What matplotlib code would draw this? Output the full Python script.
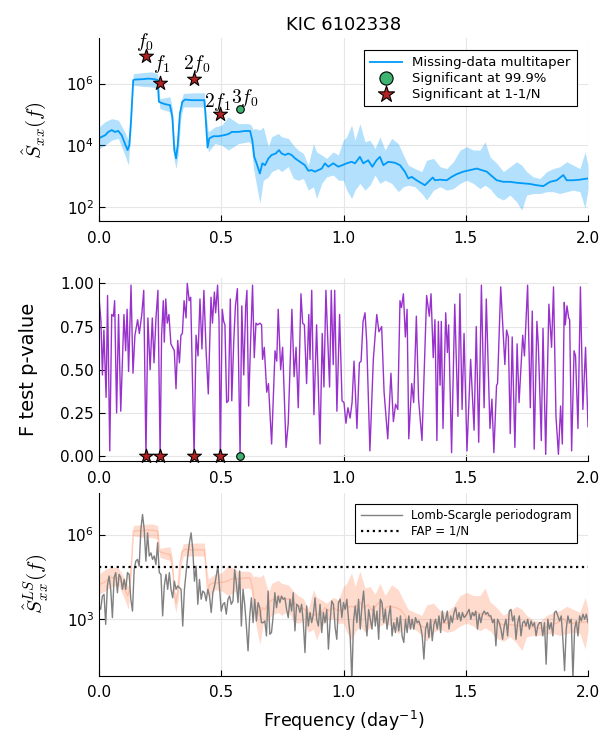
import matplotlib
matplotlib.use("Agg")
import matplotlib.pyplot as plt
import numpy as np

# multitaper estimate (log10 of S_xx)
mt_f = [0.000, 0.011, 0.025, 0.038, 0.052, 0.065, 0.079, 0.093, 0.106, 0.117, 0.124, 0.131,
        0.140, 0.147, 0.175, 0.202, 0.229, 0.240, 0.245, 0.256, 0.270, 0.290, 0.300, 0.308,
        0.315, 0.322, 0.331, 0.341, 0.352, 0.379, 0.406, 0.431, 0.436, 0.444, 0.451, 0.468,
        0.488, 0.509, 0.529, 0.543, 0.570, 0.597, 0.618, 0.627, 0.635, 0.645, 0.658, 0.668,
        0.679, 0.693, 0.706, 0.723, 0.736, 0.747, 0.761, 0.774, 0.788, 0.802, 0.822, 0.842,
        0.856, 0.870, 0.883, 0.897, 0.911, 0.924, 0.938, 0.958, 0.979, 0.995, 1.013, 1.033,
        1.047, 1.067, 1.081, 1.101, 1.118, 1.135, 1.149, 1.163, 1.183, 1.210, 1.231, 1.251,
        1.265, 1.279, 1.299, 1.320, 1.333, 1.347, 1.365, 1.374, 1.395, 1.422, 1.442, 1.463,
        1.490, 1.517, 1.545, 1.565, 1.586, 1.606, 1.627, 1.654, 1.681, 1.708, 1.736, 1.763,
        1.790, 1.817, 1.845, 1.872, 1.899, 1.913, 1.940, 1.967, 2.000]
mt_log = [4.22, 4.27, 4.32, 4.43, 4.49, 4.43, 4.46, 4.32, 4.05, 3.84, 4.00, 4.81,
          6.11, 6.13, 6.14, 6.16, 6.14, 6.11, 5.41, 5.37, 5.33, 5.30, 4.92, 3.84,
          3.57, 4.00, 5.03, 5.41, 5.48, 5.46, 5.46, 5.46, 4.92, 3.92, 4.22, 4.29,
          4.29, 4.32, 4.36, 4.43, 4.43, 4.46, 4.46, 4.16, 3.62, 3.40, 3.08, 3.41,
          3.35, 3.57, 3.68, 3.73, 3.84, 3.73, 3.68, 3.73, 3.68, 3.57, 3.46, 3.35,
          3.17, 3.19, 3.14, 3.19, 3.24, 3.41, 3.30, 3.41, 3.30, 3.35, 3.41, 3.46,
          3.41, 3.62, 3.41, 3.51, 3.30, 3.51, 3.62, 3.35, 3.46, 3.43, 3.35, 3.14,
          2.92, 2.97, 2.86, 2.76, 2.70, 2.81, 2.95, 2.86, 2.88, 2.86, 2.97, 3.06,
          3.14, 3.19, 3.24, 3.19, 3.14, 3.00, 2.86, 2.81, 2.81, 2.78, 2.76, 2.74,
          2.70, 2.67, 2.81, 2.86, 3.03, 2.86, 2.86, 2.88, 2.92]

# confidence band of the multitaper estimate (log10)
bd_f = [0.000, 0.025, 0.052, 0.079, 0.106, 0.120, 0.131, 0.140, 0.175, 0.215, 0.240, 0.249,
        0.290, 0.300, 0.308, 0.315, 0.324, 0.335, 0.345, 0.393, 0.431, 0.438, 0.447, 0.474,
        0.502, 0.529, 0.570, 0.611, 0.622, 0.631, 0.638, 0.658, 0.672, 0.693, 0.706, 0.733,
        0.747, 0.774, 0.795, 0.815, 0.836, 0.856, 0.877, 0.890, 0.911, 0.931, 0.958, 0.979,
        0.999, 1.013, 1.033, 1.047, 1.067, 1.088, 1.108, 1.129, 1.149, 1.170, 1.197, 1.224,
        1.245, 1.265, 1.292, 1.320, 1.340, 1.368, 1.395, 1.422, 1.449, 1.477, 1.504, 1.531,
        1.558, 1.579, 1.599, 1.627, 1.654, 1.681, 1.708, 1.729, 1.749, 1.776, 1.804, 1.831,
        1.858, 1.885, 1.913, 1.940, 1.967, 1.988, 2.000]
bd_hi = [4.59, 4.76, 4.86, 4.81, 4.43, 4.16, 5.00, 6.32, 6.35, 6.38, 6.32, 5.51,
         5.57, 5.20, 4.10, 3.84, 4.40, 5.40, 5.68, 5.70, 5.70, 5.00, 4.43, 4.59,
         4.65, 4.92, 4.70, 4.70, 4.65, 4.50, 4.54, 4.49, 4.59, 3.95, 4.27, 4.38,
         4.27, 4.22, 4.00, 3.84, 3.73, 3.35, 4.05, 3.78, 3.68, 3.57, 3.78, 3.68,
         4.16, 4.27, 4.65, 4.16, 4.70, 4.11, 4.16, 3.89, 4.27, 3.84, 4.22, 4.05,
         3.68, 3.35, 3.24, 3.14, 3.51, 3.57, 3.30, 3.24, 3.46, 3.84, 3.95, 3.84,
         3.84, 4.11, 3.62, 3.41, 3.14, 3.30, 3.46, 3.35, 3.14, 2.97, 2.92, 3.14,
         3.24, 3.30, 3.46, 3.35, 3.24, 3.78, 3.35]
bd_lo = [3.89, 4.00, 4.16, 4.22, 3.68, 3.35, 4.50, 5.95, 5.91, 5.89, 5.84, 5.19,
         5.08, 4.60, 3.50, 3.24, 3.70, 4.90, 5.24, 5.24, 5.24, 4.50, 3.78, 4.05,
         4.00, 3.84, 4.05, 4.11, 4.05, 3.30, 2.97, 2.11, 2.86, 2.97, 3.14, 3.24,
         3.14, 3.30, 2.92, 2.86, 2.92, 2.54, 2.65, 2.27, 2.76, 2.97, 3.03, 2.86,
         2.86, 2.54, 2.27, 2.54, 2.76, 2.54, 2.70, 3.03, 2.76, 2.86, 2.76, 2.49,
         2.65, 2.70, 2.65, 2.43, 2.22, 2.54, 2.65, 2.54, 2.59, 2.76, 2.86, 2.76,
         2.59, 2.70, 2.59, 2.32, 2.22, 2.38, 2.16, 1.89, 2.38, 2.43, 2.43, 2.49,
         2.49, 2.43, 2.49, 2.54, 2.49, 1.95, 2.59]

# detected lines
sig_names = ["f_0", "f_1", "2f_0", "2f_1"]
sig_f = [0.192, 0.250, 0.389, 0.496]
sig_log = [6.89, 6.02, 6.16, 5.00]
weak_names = ["3f_0"]
weak_f = [0.577]
weak_log = [5.17]

# F test p-values
pv_f = [0.000, 0.008, 0.014, 0.020, 0.029, 0.035, 0.044, 0.052, 0.059, 0.064, 0.072, 0.080,
        0.089, 0.102, 0.109, 0.115, 0.121, 0.131, 0.139, 0.147, 0.158, 0.165, 0.175, 0.183,
        0.192, 0.200, 0.209, 0.218, 0.225, 0.233, 0.241, 0.250, 0.256, 0.263, 0.267, 0.273,
        0.279, 0.286, 0.294, 0.301, 0.308, 0.315, 0.322, 0.329, 0.335, 0.341, 0.348, 0.356,
        0.361, 0.369, 0.375, 0.389, 0.397, 0.405, 0.413, 0.421, 0.429, 0.438, 0.447, 0.458,
        0.464, 0.472, 0.477, 0.485, 0.491, 0.496, 0.504, 0.510, 0.515, 0.522, 0.529, 0.537,
        0.543, 0.551, 0.558, 0.566, 0.577, 0.584, 0.592, 0.600, 0.605, 0.612, 0.620, 0.628,
        0.635, 0.642, 0.649, 0.658, 0.665, 0.669, 0.676, 0.686, 0.693, 0.706, 0.720, 0.727,
        0.733, 0.743, 0.751, 0.765, 0.774, 0.789, 0.798, 0.806, 0.815, 0.826, 0.833, 0.840,
        0.849, 0.858, 0.863, 0.870, 0.879, 0.890, 0.904, 0.913, 0.920, 0.928, 0.943, 0.950,
        0.958, 0.964, 0.973, 0.984, 0.994, 1.002, 1.010, 1.018, 1.027, 1.035, 1.043, 1.055,
        1.065, 1.072, 1.080, 1.088, 1.095, 1.108, 1.122, 1.136, 1.145, 1.156, 1.166, 1.181,
        1.194, 1.204, 1.213, 1.222, 1.231, 1.237, 1.245, 1.253, 1.260, 1.267, 1.279, 1.287,
        1.298, 1.307, 1.321, 1.340, 1.351, 1.358, 1.367, 1.374, 1.382, 1.388, 1.395, 1.400,
        1.407, 1.418, 1.425, 1.430, 1.442, 1.455, 1.468, 1.476, 1.485, 1.493, 1.505, 1.520,
        1.534, 1.543, 1.553, 1.564, 1.575, 1.584, 1.599, 1.607, 1.615, 1.626, 1.630, 1.643,
        1.660, 1.667, 1.674, 1.682, 1.690, 1.701, 1.710, 1.718, 1.733, 1.740, 1.753, 1.764,
        1.772, 1.780, 1.791, 1.797, 1.809, 1.816, 1.827, 1.840, 1.851, 1.859, 1.869, 1.879,
        1.888, 1.895, 1.903, 1.907, 1.914, 1.921, 1.925, 1.933, 1.943, 1.949, 1.959, 1.969,
        1.979, 1.990, 2.000]
pv = [0.92, 0.78, 0.47, 0.73, 0.34, 0.93, 0.03, 0.82, 0.81, 0.90, 0.25, 0.82,
      0.26, 0.82, 0.61, 0.85, 0.49, 0.99, 0.48, 0.70, 0.79, 0.71, 0.82, 0.96,
      0.00, 0.80, 0.50, 0.80, 0.54, 0.80, 0.96, 0.00, 0.70, 0.90, 0.66, 0.91,
      0.77, 0.82, 0.65, 0.63, 0.61, 0.39, 0.67, 0.54, 0.70, 0.71, 0.90, 0.80,
      1.00, 0.90, 0.92, 0.00, 0.70, 0.58, 0.91, 0.62, 0.96, 0.61, 0.36, 0.92,
      0.77, 0.95, 0.83, 0.99, 0.78, 0.00, 0.85, 0.78, 0.76, 0.31, 0.32, 0.91,
      0.32, 0.66, 0.87, 0.97, 0.00, 0.87, 0.47, 0.87, 0.96, 0.29, 0.66, 0.99,
      0.57, 0.77, 0.76, 0.77, 0.76, 0.56, 0.63, 0.37, 0.42, 0.07, 0.61, 0.55,
      0.85, 0.50, 0.63, 0.05, 0.19, 0.85, 0.46, 0.63, 0.28, 0.94, 0.77, 0.76,
      0.42, 0.82, 0.56, 0.96, 0.24, 0.76, 0.07, 0.71, 0.40, 0.96, 0.40, 0.96,
      0.53, 0.96, 0.26, 0.82, 0.32, 0.31, 0.19, 0.28, 0.22, 0.31, 0.55, 0.16,
      0.54, 0.55, 0.78, 0.83, 0.66, 0.03, 0.56, 0.82, 0.72, 0.75, 0.37, 0.10,
      0.48, 0.20, 0.30, 0.27, 0.90, 0.86, 0.94, 0.69, 0.85, 0.10, 0.42, 0.31,
      0.81, 0.33, 0.09, 0.93, 0.81, 0.94, 0.57, 0.79, 0.09, 0.78, 0.41, 0.78,
      0.16, 0.83, 0.60, 0.76, 0.02, 0.88, 0.23, 0.94, 0.27, 0.71, 0.03, 0.56,
      0.15, 0.75, 0.08, 0.99, 0.28, 0.91, 0.16, 0.33, 0.02, 0.41, 0.42, 0.98,
      0.53, 0.73, 0.69, 0.13, 0.69, 0.05, 0.65, 0.31, 0.70, 0.58, 0.99, 0.28,
      0.84, 0.04, 0.78, 0.64, 0.09, 0.74, 0.01, 0.88, 0.63, 0.98, 0.23, 0.01,
      0.29, 0.07, 0.89, 0.76, 0.87, 0.80, 0.79, 0.03, 0.61, 0.58, 0.16, 0.98,
      0.27, 0.63, 0.17]

# Lomb-Scargle periodogram (log10), evenly spaced in frequency from 0 to 2
ls_log = [3.47, 3.35, 3.82, 3.88, 2.82, 4.18, 4.53, 4.06, 3.06, 4.47, 4.65, 3.94,
          4.59, 4.47, 4.06, 4.41, 4.06, 4.65, 4.59, 3.71, 3.29, 4.76, 5.06, 5.12,
          4.88, 6.18, 6.71, 6.18, 5.06, 6.06, 5.24, 5.35, 5.12, 5.24, 4.94, 5.71,
          4.65, 4.59, 3.12, 4.18, 4.59, 4.06, 4.65, 4.06, 3.76, 4.35, 4.06, 4.18,
          4.12, 4.06, 2.76, 4.06, 4.65, 5.24, 5.71, 6.06, 5.47, 4.35, 4.88, 3.53,
          4.41, 3.71, 4.00, 3.94, 3.65, 4.06, 3.82, 3.24, 3.94, 4.18, 4.53, 4.88,
          4.06, 3.29, 3.53, 3.59, 3.18, 3.71, 3.82, 3.53, 3.65, 4.76, 4.29, 3.59,
          4.71, 2.76, 4.06, 3.53, 2.76, 1.88, 3.12, 3.76, 2.88, 3.71, 2.94, 3.59,
          3.41, 2.88,
          2.88, 2.94, 2.41, 4.00, 2.47, 2.53, 3.12, 3.94, 3.41, 3.82, 3.59, 3.82,
          3.71, 3.76, 3.35, 3.06, 3.71, 3.29, 3.94, 2.59, 3.53, 3.47, 3.24, 3.53,
          2.88, 1.82, 3.47, 2.76, 3.24, 2.88, 3.18, 3.76, 3.00, 2.76, 3.53, 2.53,
          3.24, 2.88, 3.35, 1.94, 2.94, 3.65, 3.53, 2.71, 2.29, 3.59, 3.71, 3.06,
          3.59, 3.35, 3.71, 3.00, 2.41, 0.80, 2.94, 3.47, 2.88, 3.71, 2.65, 3.47,
          4.00, 3.12, 2.41, 3.35, 3.00, 2.65, 3.47, 2.76, 3.29, 2.29, 3.71, 3.59,
          2.88, 3.35, 2.65, 3.12, 3.47, 2.41, 2.88, 2.53, 3.06, 2.59, 3.12, 2.41,
          2.18, 3.00, 2.53, 3.12, 2.65, 3.00, 2.65, 3.06, 2.88, 2.94, 2.76, 2.41,
          1.59, 2.65, 2.88,
          2.35, 3.00, 2.24, 2.82, 3.00, 2.65, 3.12, 2.53, 3.29, 2.88, 3.00, 3.29,
          2.65, 3.12, 2.88, 3.24, 3.41, 3.00, 3.24, 2.94, 3.24, 3.06, 3.12, 3.24,
          3.35, 3.00, 3.24, 3.12, 3.29, 2.65, 3.18, 2.88, 3.18, 3.29, 3.18, 3.24,
          3.12, 3.12, 2.88, 3.00, 2.06, 3.00, 2.88, 2.65, 2.29, 2.76, 3.00, 2.41,
          3.29, 3.35, 2.94, 3.12, 2.29, 2.88, 3.12, 2.41, 2.88, 2.94, 2.76, 3.00,
          2.65, 2.94, 2.76, 2.88, 2.41, 2.76, 2.88, 2.88, 2.41, 2.88, 1.41, 3.00,
          2.65, 2.88, 2.41, 3.24, 3.29, 3.12, 2.94, 3.12, 2.29, 1.18, 2.65, 3.12,
          2.88, 3.00, 0.90, 2.65, 2.94, 2.41, 3.12, 2.94, 3.18, 3.00, 3.18, 2.88]
fap_log = 4.85

mt_f = np.array(mt_f)
bd_f = np.array(bd_f)
mt = 10 ** np.array(mt_log)
hi = 10 ** np.array(bd_hi)
lo = 10 ** np.array(bd_lo)
ls_f = np.linspace(0, 2, len(ls_log))
ls = 10 ** np.array(ls_log)

blue = "#009AFA"
salmon = "#FF7F50"
star_col = "#B22222"
green = "#3CB371"

plt.rcParams["font.family"] = "DejaVu Sans"
fig = plt.figure(figsize=(6, 7.5), dpi=100)
ax1 = fig.add_axes([0.165, 0.705, 0.815, 0.244])
ax2 = fig.add_axes([0.165, 0.385, 0.815, 0.244])
ax3 = fig.add_axes([0.165, 0.099, 0.815, 0.244])

for ax in (ax1, ax2, ax3):
    ax.set_xlim(0, 2)
    ax.set_xticks([0, 0.5, 1.0, 1.5, 2.0])
    ax.set_xticklabels(["0.0", "0.5", "1.0", "1.5", "2.0"])
    ax.grid(True, color="#e6e6e6", lw=0.8)
    ax.set_axisbelow(True)
    ax.spines["top"].set_visible(False)
    ax.spines["right"].set_visible(False)
    ax.tick_params(direction="in", length=4, labelsize=11)
    ax.tick_params(axis="x", pad=7)
    ax.minorticks_off()

# top panel
ax1.fill_between(bd_f, lo, hi, color=blue, alpha=0.3, lw=0)
ax1.plot(mt_f, mt, color=blue, lw=1.3, label="Missing-data multitaper")
ax1.scatter(weak_f, 10 ** np.array(weak_log), s=30, color=green, edgecolor="black",
            lw=0.8, zorder=5, label="Significant at 99.9%")
ax1.scatter(sig_f, 10 ** np.array(sig_log), s=110, marker="*", color=star_col,
            edgecolor="black", lw=0.8, zorder=5, label="Significant at 1-1/N")
ax1.set_yscale("log")
ax1.set_ylim(10 ** 1.53, 10 ** 7.47)
ax1.set_yticks([1e2, 1e4, 1e6])
ax1.minorticks_off()
ax1.set_ylabel(r"$\hat{S}_{xx}(f)$", fontsize=15, math_fontfamily="cm")
ax1.set_title("KIC 6102338", fontsize=13)

label_pos = {"f_0": (0.186, 7.34), "f_1": (0.256, 6.62), "2f_0": (0.40, 6.63),
             "2f_1": (0.485, 5.39), "3f_0": (0.595, 5.52)}
for name in sig_names + weak_names:
    x, y = label_pos[name]
    ax1.text(x, 10 ** y, "$" + name + "$", fontsize=14, ha="center", va="center",
             math_fontfamily="cm")

leg = ax1.legend(loc="upper right", bbox_to_anchor=(0.99, 0.97), fontsize=9.5,
                 frameon=True, fancybox=False, edgecolor="black", framealpha=1,
                 handlelength=2.4, borderpad=0.45, labelspacing=0.2)
leg.get_frame().set_linewidth(0.8)
leg.legend_handles[1].set_sizes([90])
leg.legend_handles[2].set_sizes([150])

# middle panel
ax2.plot(pv_f, pv, color="darkorchid", lw=1)
ax2.scatter(weak_f, [0], s=30, color=green, edgecolor="black", lw=0.8, zorder=5,
            clip_on=False)
ax2.scatter(sig_f, [0] * len(sig_f), s=110, marker="*", color=star_col,
            edgecolor="black", lw=0.8, zorder=5, clip_on=False)
ax2.set_ylim(-0.03, 1.03)
ax2.set_yticks([0, 0.25, 0.5, 0.75, 1.0])
ax2.set_yticklabels(["0.00", "0.25", "0.50", "0.75", "1.00"])
ax2.set_ylabel("F test p-value", fontsize=14)

# bottom panel
ax3.fill_between(bd_f, lo, hi, color=salmon, alpha=0.28, lw=0)
ax3.plot(mt_f, mt, color=salmon, lw=1, alpha=0.3)
ax3.plot(ls_f, ls, color="0.5", lw=1, label="Lomb-Scargle periodogram")
ax3.axhline(10 ** fap_log, color="black", ls=":", lw=1.6, label="FAP = 1/N")
ax3.set_yscale("log")
ax3.set_ylim(10 ** 1.0, 10 ** 7.48)
ax3.set_yticks([1e3, 1e6])
ax3.minorticks_off()
ax3.set_ylabel(r"$\hat{S}^{LS}_{xx}(f)$", fontsize=15, math_fontfamily="cm")
ax3.set_xlabel(r"Frequency (day$^{-1}$)", fontsize=12.5, labelpad=6)
leg3 = ax3.legend(loc="upper right", bbox_to_anchor=(0.99, 0.97), fontsize=8.5,
                  frameon=True, fancybox=False, edgecolor="black", framealpha=1,
                  handlelength=3.5, borderpad=0.45, labelspacing=0.2)
leg3.get_frame().set_linewidth(0.8)

ax1.yaxis.set_label_coords(-0.105, 0.5)
ax2.yaxis.set_label_coords(-0.125, 0.5)
ax3.yaxis.set_label_coords(-0.10, 0.5)

fig.savefig("out.png", dpi=100)
